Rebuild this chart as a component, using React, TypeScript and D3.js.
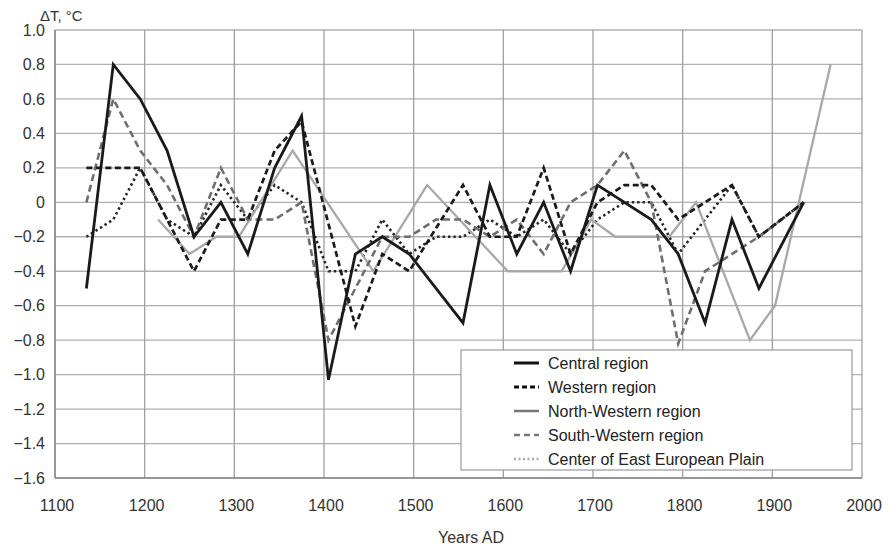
import React from "react";
import * as d3 from "d3";

const centralYears = [1135,1165,1195,1225,1255,1285,1315,1345,1375,1405,1435,1465,1495,1555,1585,1615,1645,1675,1705,1765,1795,1825,1855,1885,1935];
const centralVals = [-0.5,0.8,0.6,0.3,-0.2,0,-0.3,0.2,0.5,-1.03,-0.3,-0.2,-0.3,-0.7,0.1,-0.3,0,-0.4,0.1,-0.1,-0.3,-0.7,-0.1,-0.5,0];

const westernYears = [1135,1165,1195,1225,1255,1285,1315,1345,1375,1435,1465,1495,1555,1585,1615,1645,1675,1705,1735,1765,1795,1855,1885,1935];
const westernVals = [0.2,0.2,0.2,-0.1,-0.4,-0.1,-0.1,0.3,0.47,-0.72,-0.3,-0.4,0.1,-0.2,-0.2,0.2,-0.3,0,0.1,0.1,-0.1,0.1,-0.2,0];

const nwYears = [1215,1250,1280,1305,1365,1455,1515,1605,1665,1698,1725,1785,1815,1875,1903,1965];
const nwVals = [-0.1,-0.3,-0.2,-0.2,0.3,-0.4,0.1,-0.4,-0.4,-0.1,-0.2,-0.2,0,-0.8,-0.6,0.8];

const swYears = [1135,1165,1195,1225,1255,1285,1315,1345,1375,1405,1435,1465,1495,1525,1555,1585,1615,1645,1675,1705,1735,1765,1795,1825,1885,1935];
const swVals = [0,0.6,0.3,0.1,-0.2,0.2,-0.1,-0.1,0,-0.8,-0.5,-0.2,-0.2,-0.1,-0.1,-0.2,-0.1,-0.3,0,0.1,0.3,0,-0.82,-0.4,-0.2,0];

const plainYears = [1135,1165,1195,1225,1255,1285,1315,1345,1375,1405,1435,1465,1495,1525,1555,1585,1615,1645,1675,1705,1735,1765,1795,1855,1885,1935];
const plainVals = [-0.2,-0.1,0.2,-0.1,-0.2,0.1,-0.1,0.1,0,-0.4,-0.4,-0.1,-0.3,-0.2,-0.2,-0.1,-0.2,-0.1,-0.3,-0.1,0,0,-0.3,0.1,-0.2,0];

const xTicks = [1100,1200,1300,1400,1500,1600,1700,1800,1900,2000];
const yTicks = [1.0,0.8,0.6,0.4,0.2,0,-0.2,-0.4,-0.6,-0.8,-1.0,-1.2,-1.4,-1.6];
const legendLabels = ["Central region","Western region","North-Western region","South-Western region","Center of East European Plain"];

const FONT = "'Liberation Sans', Arial, sans-serif";

export default function App() {
  const W = 890, H = 552;
  const x = d3.scaleLinear().domain([1100, 2000]).range([55, 862]);
  const y = d3.scaleLinear().domain([-1.6, 1.0]).range([478, 30]);
  const line = d3.line<[number, number]>().x(d => x(d[0])).y(d => y(d[1]));
  const mk = (ys: number[], vs: number[]) => line(ys.map((yr, i) => [yr, vs[i]] as [number, number])) || "";

  const series = [
    { d: mk(plainYears, plainVals), stroke: "#262626", w: 2.6, dash: "2.4,3" },
    { d: mk(nwYears, nwVals), stroke: "#a8a8a8", w: 2.3, dash: undefined },
    { d: mk(swYears, swVals), stroke: "#6e6e6e", w: 2.6, dash: "7,4" },
    { d: mk(westernYears, westernVals), stroke: "#1a1a1a", w: 2.7, dash: "6,3.5" },
    { d: mk(centralYears, centralVals), stroke: "#1a1a1a", w: 2.8, dash: undefined },
  ];

  const legendStyles = [
    { stroke: "#111", w: 3, dash: undefined },
    { stroke: "#111", w: 3, dash: "5,3" },
    { stroke: "#777", w: 2.5, dash: undefined },
    { stroke: "#777", w: 2.5, dash: "6,4" },
    { stroke: "#aaa", w: 2.5, dash: "2,2.5" },
  ];

  const fmt = (v: number) => {
    if (v === 0) return "0";
    const s = Math.abs(v).toFixed(1);
    return v < 0 ? "\u2212" + s : s;
  };

  return (
    <svg width={W} height={H} style={{ display: "block", position: "absolute", left: 0, top: 0, background: "#fff" }} fontFamily={FONT}>
      <rect x={0} y={0} width={W} height={H} fill="#fff" />
      {yTicks.map(t => (
        <line key={"h" + t} x1={x(1100)} x2={x(2000)} y1={y(t)} y2={y(t)} stroke="#b0b0b0" strokeWidth={1.3} />
      ))}
      {xTicks.map(t => (
        <line key={"v" + t} x1={x(t)} x2={x(t)} y1={y(1.0)} y2={y(-1.6)} stroke="#a0a0a0" strokeWidth={1.3} />
      ))}
      <line x1={x(1100)} x2={x(1100)} y1={y(1.0)} y2={y(-1.6)} stroke="#888" strokeWidth={1.5} />
      <line x1={x(1100)} x2={x(2000)} y1={y(-1.6)} y2={y(-1.6)} stroke="#888" strokeWidth={1.5} />
      {yTicks.map(t => (
        <text key={"yl" + t} x={45} y={y(t)} dy="0.35em" textAnchor="end" fontSize={16} fill="#333">{fmt(t)}</text>
      ))}
      {xTicks.map(t => (
        <text key={"xl" + t} x={x(t) + 2} y={505} dy="0.35em" textAnchor="middle" fontSize={16} fill="#333">{t}</text>
      ))}
      <text x={40} y={21} fontSize={15} fill="#333">ΔT, °C</text>
      <text x={471} y={537} dy="0.35em" textAnchor="middle" fontSize={16} fill="#333">Years AD</text>
      {series.map((s, i) => (
        <path key={"s" + i} d={s.d} fill="none" stroke={s.stroke} strokeWidth={s.w} strokeDasharray={s.dash} strokeLinejoin="miter" />
      ))}
      <rect x={461} y={350} width={391} height={120} fill="#fff" stroke="#999" strokeWidth={1.2} />
      {legendLabels.map((lab, i) => {
        const ly = 363 + i * 24;
        const st = legendStyles[i];
        return (
          <g key={"lg" + i}>
            <line x1={514} x2={539} y1={ly} y2={ly} stroke={st.stroke} strokeWidth={st.w} strokeDasharray={st.dash} />
            <text x={548} y={ly} dy="0.35em" fontSize={16} fill="#222">{lab}</text>
          </g>
        );
      })}
    </svg>
  );
}
